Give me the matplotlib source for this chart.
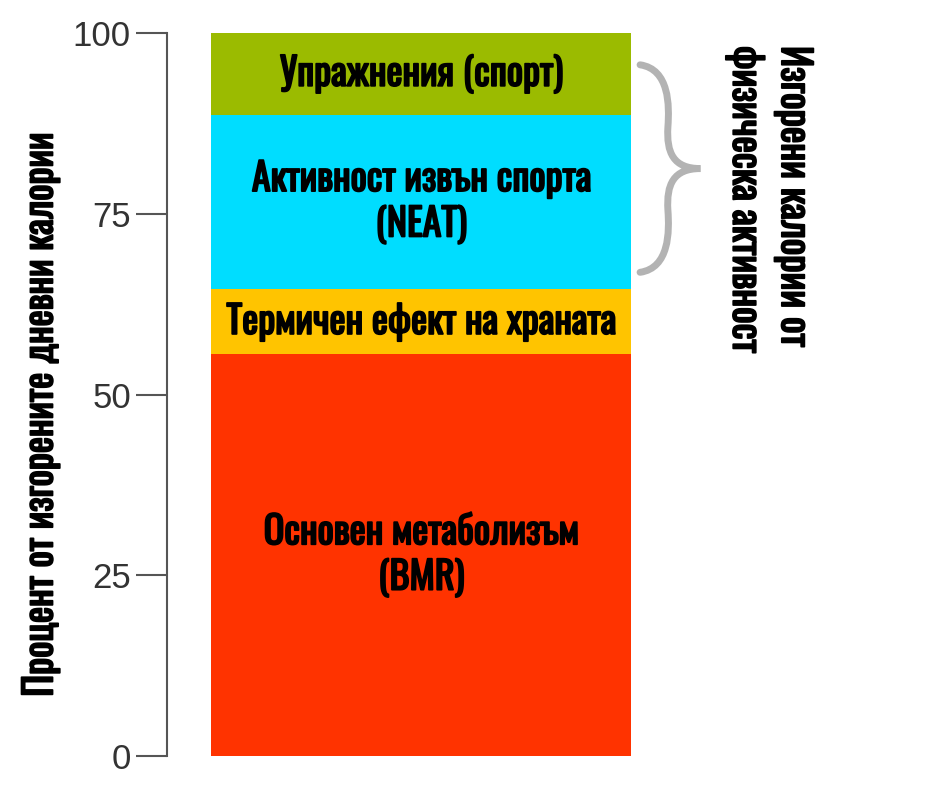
import matplotlib
matplotlib.use("Agg")
import matplotlib.pyplot as plt
import matplotlib.patheffects as pe
from matplotlib.path import Path
from matplotlib.patches import PathPatch

# stacked segments, bottom to top
segments = ["Основен метаболизъм\n(BMR)", "Термичен ефект на храната",
            "Активност извън спорта\n(NEAT)", "Упражнения (спорт)"]
values = [55.6, 9.0, 24.1, 11.3]
colors = ["#ff3300", "#ffc400", "#00ddff", "#9bbb00"]
y_ticks = [0, 25, 50, 75, 100]
y_label = "Процент от изгорените дневни калории"
brace_label = "Изгорени калории от\nфизическа активност"

bold_font = ['Oswald', 'DejaVu Sans']
# Oswald only comes in regular here, so thicken it with a stroke
heavy = [pe.withStroke(linewidth=1.3, foreground='black')]
plt.rcParams['font.family'] = ['Liberation Sans', 'DejaVu Sans']

fig = plt.figure(figsize=(9.4, 7.88), dpi=100)
ax = fig.add_axes([167/940, 32/788, 773/940, 723/788])
ax.set_xlim(0, 1)
ax.set_ylim(0, 100)

bar_x = 0.329
bar_w = 0.543
bottom = 0
for name, v, c in zip(segments, values, colors):
    ax.bar(bar_x, v, width=bar_w, bottom=bottom, color=c, edgecolor='none')
    ax.text(bar_x, bottom + v / 2, name, ha='center', va='center',
            fontsize=27.5, fontweight='bold', family=bold_font, color='black',
            linespacing=1.2, path_effects=heavy)
    bottom += v

# axis styling
for s in ['top', 'right', 'bottom']:
    ax.spines[s].set_visible(False)
ax.spines['left'].set_color('#555555')
ax.spines['left'].set_linewidth(1.5)
ax.set_xticks([])
ax.set_yticks(y_ticks)
ax.tick_params(axis='y', length=22, width=1.5, color='#555555',
               labelsize=25, labelcolor='#333333', pad=4)

# curly brace next to the activity segments
top = sum(values)
act_low = values[0] + values[1] + 2.3
mid = (top - 4.4 + act_low) / 2
verts = [(0.612, top - 4.4),
         (0.650, top - 5.0), (0.650, top - 10.0), (0.648, top - 13.0),
         (0.646, mid + 2.2), (0.655, mid), (0.690, mid),
         (0.655, mid), (0.646, mid - 2.2), (0.648, act_low + 8.6),
         (0.650, act_low + 5.6), (0.650, act_low + 0.6), (0.612, act_low)]
codes = [Path.MOVETO] + [Path.CURVE4] * 12
ax.add_patch(PathPatch(Path(verts, codes), facecolor='none',
                       edgecolor='#b3b3b3', linewidth=5, capstyle='round',
                       clip_on=False))

fig.text(770/940, 1 - 46/788, brace_label, rotation=-90, ha='center', va='top',
         multialignment='left', fontsize=28, fontweight='bold', family=bold_font,
         linespacing=1.3, path_effects=heavy)

fig.text(40/940, 0.473, y_label, rotation=90, ha='center', va='center',
         fontsize=27.5, fontweight='bold', family=bold_font, path_effects=heavy)

fig.savefig("out.png", dpi=100)
